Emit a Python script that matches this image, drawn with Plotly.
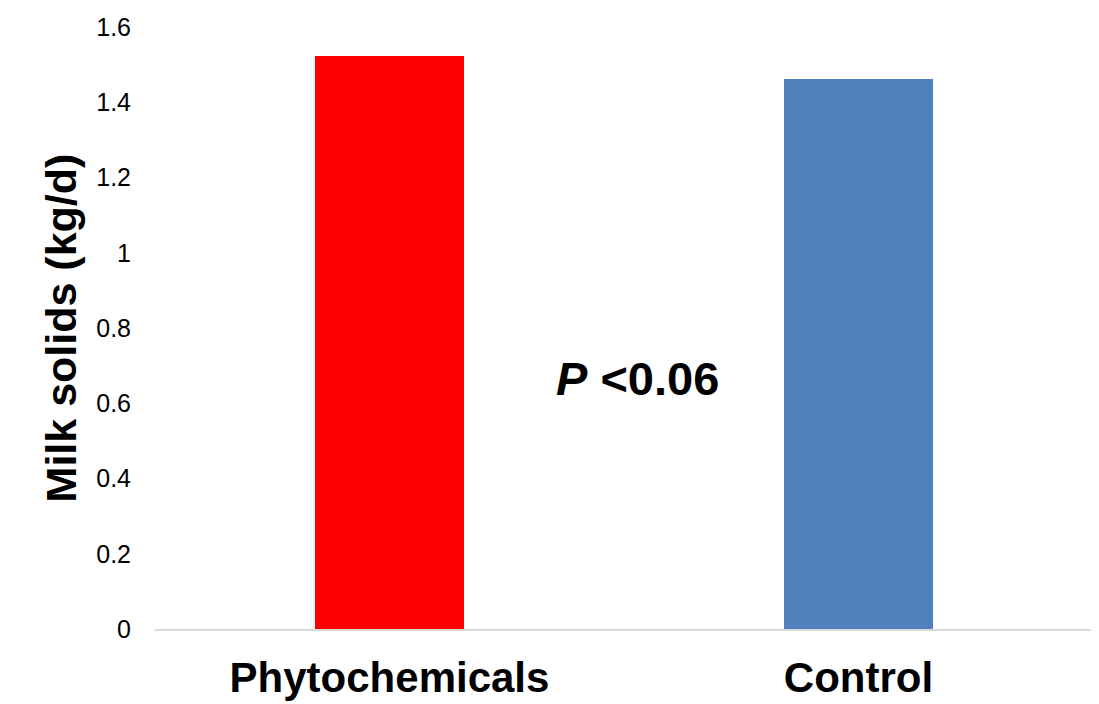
import plotly.graph_objects as go

categories = ["Phytochemicals", "Control"]
values = [1.523, 1.462]
colors = ["#FF0000", "#4F81BD"]
y_ticks = [0, 0.2, 0.4, 0.6, 0.8, 1, 1.2, 1.4, 1.6]
y_tick_labels = ["0", "0.2", "0.4", "0.6", "0.8", "1", "1.2", "1.4", "1.6"]

fig = go.Figure(go.Bar(x=categories, y=values, marker=dict(color=colors, line=dict(width=0)), width=0.316))

fig.update_layout(
    width=1099, height=704,
    margin=dict(l=147, r=14, t=19, b=83, autoexpand=False),
    paper_bgcolor="white", plot_bgcolor="white",
    font=dict(family="Liberation Sans, Arial, sans-serif", color="black"),
    showlegend=False,
    bargap=0,
)
fig.update_yaxes(
    range=[0, 1.6], tickvals=y_ticks, ticktext=y_tick_labels,
    showgrid=False, zeroline=False, showline=False,
    tickfont=dict(size=25), ticks="", ticklabelstandoff=23,
    title=dict(text="<b>Milk solids (kg/d)</b>", font=dict(size=43), standoff=6),
)
fig.update_xaxes(
    showgrid=False, showline=True, linecolor="#D9D9D9", linewidth=2,
    tickfont=dict(size=42, family="Liberation Sans, Arial, sans-serif"),
    ticktext=["<b>Phytochemicals</b>", "<b>Control</b>"], tickvals=categories,
    ticks="", ticklabelstandoff=11,
)
fig.add_annotation(
    x=0.528, y=0.667, xref="x", yref="y",
    text="<b><i>P</i> <0.06</b>", showarrow=False,
    font=dict(size=47, color="black"),
)
fig.write_html("out.html")
